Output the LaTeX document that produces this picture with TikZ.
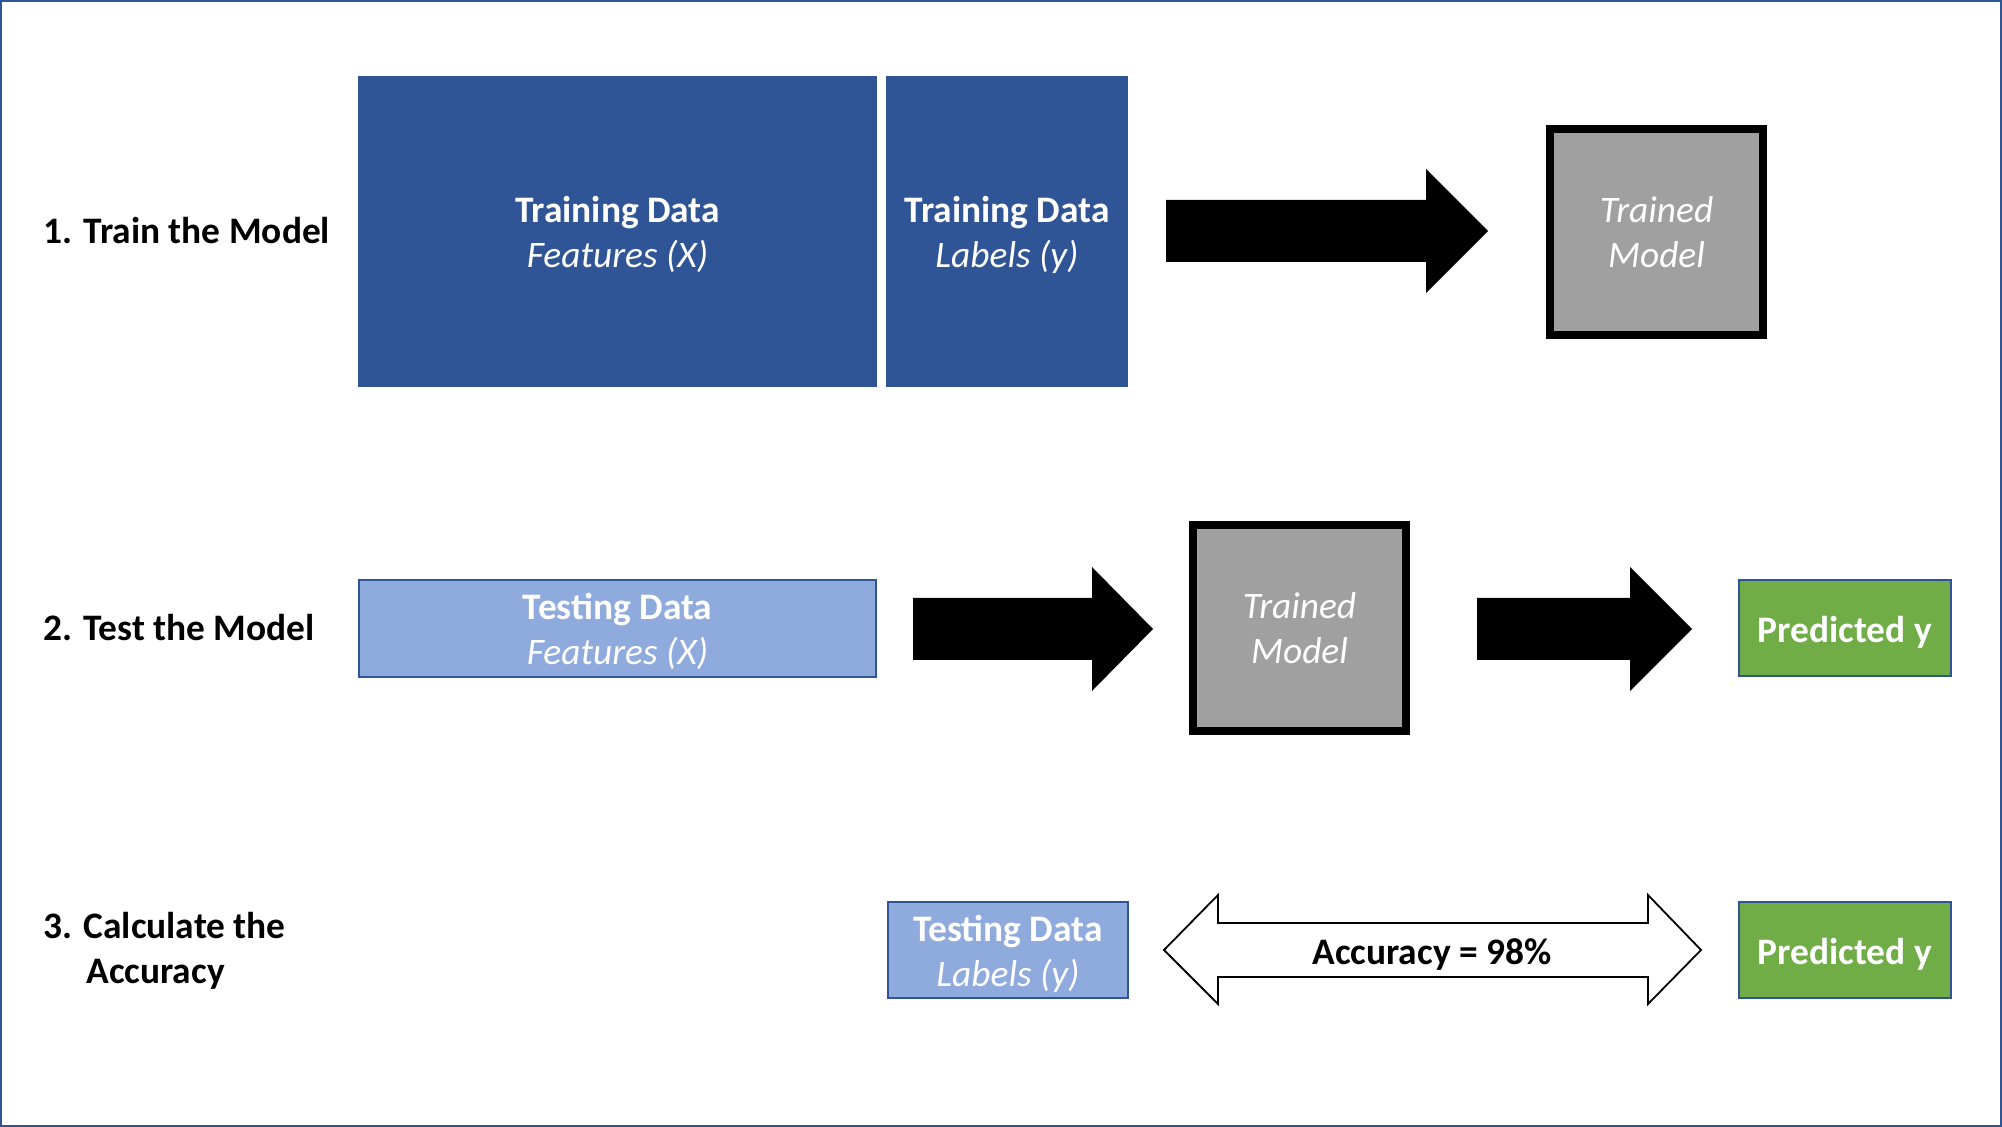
\documentclass[tikz,border=0pt]{standalone}
\usepackage{fontspec}
\setmainfont{Carlito}
\usepackage{tikz}
\usetikzlibrary{arrows.meta,positioning}
\definecolor{darkblue}{RGB}{47,85,151}
\definecolor{lightblue}{RGB}{143,170,220}
\definecolor{predgreen}{RGB}{112,173,71}
\definecolor{modelgray}{RGB}{160,160,160}

\tikzset{
  databox/.style={fill=darkblue, draw=darkblue, line width=1pt, text=white, align=center, inner sep=0pt, outer sep=0pt,
    text height=38pt, text depth=1.5pt},
  testbox/.style={fill=lightblue, draw=darkblue, line width=1pt, text=white, align=center, inner sep=0pt, outer sep=0pt,
    text height=38pt, text depth=1.5pt},
  modelbox/.style={fill=modelgray, draw=black, line width=4pt, text=white, align=center, inner sep=0pt, outer sep=0pt,
    minimum width=106.5pt, minimum height=103pt},
  predbox/.style={fill=predgreen, draw=darkblue, line width=1pt, text=white, font=\bfseries, inner sep=0pt, outer sep=0pt,
    minimum width=106pt, minimum height=48pt, text height=15.5pt, text depth=1.5pt},
  steplabel/.style={anchor=west, font=\bfseries, align=left, inner sep=0pt},
  blockarrow/.style={fill=black},
}

\begin{document}
\fontsize{18.7pt}{22.5pt}\selectfont
\begin{tikzpicture}[x=0.5pt, y=-0.5pt]
  \useasboundingbox (0,0) rectangle (2002,1127);
  % frame
  \draw[darkblue, line width=1pt] (1,1) rectangle (2001,1126);

  % step labels
  \node[steplabel] (step1) at (43,231) {1. Train the Model};
  \node[steplabel] (step2) at (43,628) {2. Test the Model};
  \node[steplabel] (step3) at (43,951) {3. Calculate the\\\hspace*{21.5pt}Accuracy};

  % 1. training
  \node[databox, minimum width=258.5pt, minimum height=154.5pt] (trainX) at (617.5,231.5)
    {\textbf{Training Data}\\\textit{Features (X)}};
  \node[databox, minimum width=120pt, minimum height=154.5pt] (trainY) at (1007,231.5)
    {\textbf{Training Data}\\\textit{Labels (y)}};
  \fill[blockarrow] (1166,200) -- (1426,200) -- (1426,169) -- (1488,231) -- (1426,293) -- (1426,262) -- (1166,262) -- cycle;
  \node[modelbox] (model1) at (1656.5,232) {\textit{Trained}\\\textit{Model}};

  % 2. testing
  \node[testbox, minimum width=258.5pt, minimum height=48.5pt] (testX) at (617.5,628.5)
    {\textbf{Testing Data}\\\textit{Features (X)}};
  \fill[blockarrow] (913,598) -- (1092,598) -- (1092,567) -- (1153,629) -- (1092,691) -- (1092,660) -- (913,660) -- cycle;
  \node[modelbox] (model2) at (1299.5,628) {\textit{Trained}\\\textit{Model}};
  \fill[blockarrow] (1477,598) -- (1630,598) -- (1630,567) -- (1692,629) -- (1630,691) -- (1630,660) -- (1477,660) -- cycle;
  \node[predbox] (pred2) at (1845,628.5) {Predicted y};

  % 3. accuracy
  \node[testbox, minimum width=120pt, minimum height=48pt] (testY) at (1008,950)
    {\textbf{Testing Data}\\\textit{Labels (y)}};
  \draw[fill=white, line width=0.9pt] (1164,950) -- (1218,895) -- (1218,923) -- (1648,923) -- (1648,895) -- (1701,950)
    -- (1648,1004) -- (1648,977) -- (1218,977) -- (1218,1004) -- cycle;
  \node[font=\bfseries, inner sep=0pt, text height=15.5pt, text depth=1.5pt] (acc) at (1432,950) {Accuracy = 98\%};
  \node[predbox] (pred3) at (1845,950) {Predicted y};
\end{tikzpicture}
\end{document}
